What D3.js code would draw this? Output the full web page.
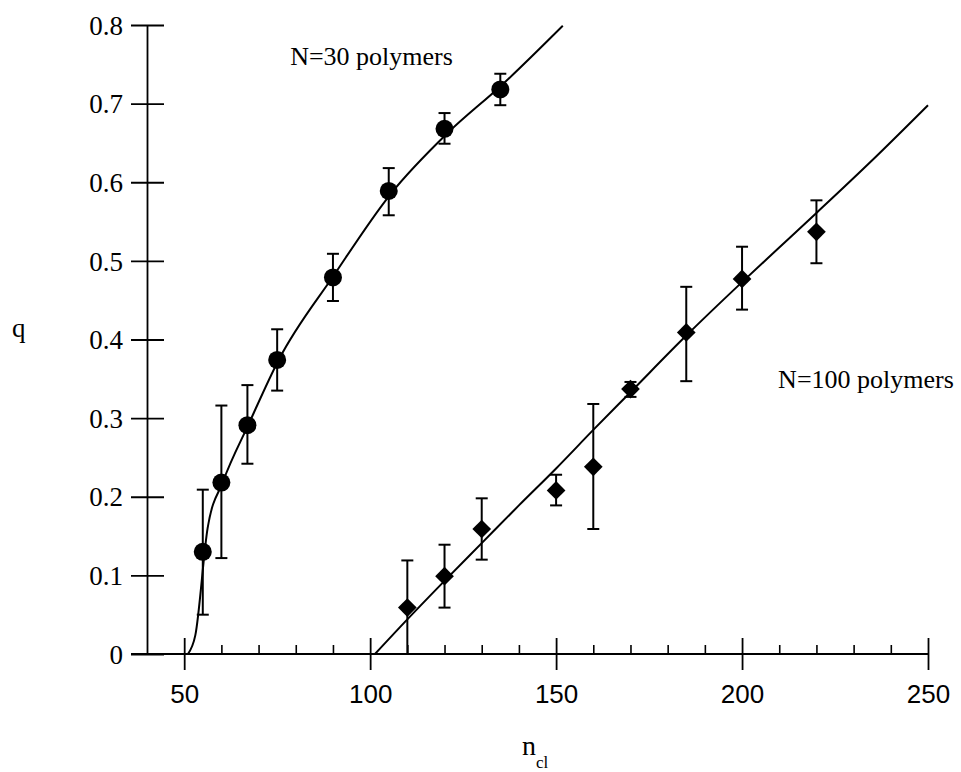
<!DOCTYPE html>
<html>
<head>
<meta charset="utf-8">
<script src="https://cdn.jsdelivr.net/npm/d3@7"></script>
<style>
  html, body { margin: 0; padding: 0; background: #fff; }
  svg { display: block; }
</style>
</head>
<body>
<svg id="chart" width="961" height="772"></svg>
<script>
// ---------- data ----------
// N=30 polymers (circles)
const n30   = [55, 60, 67, 75, 90, 105, 120, 135];
const q30   = [0.130, 0.218, 0.291, 0.374, 0.479, 0.589, 0.668, 0.718];
const lo30  = [0.050, 0.122, 0.242, 0.335, 0.449, 0.558, 0.649, 0.698];
const hi30  = [0.209, 0.316, 0.342, 0.413, 0.509, 0.618, 0.688, 0.738];
// fitted curve, N=30
const fit30X = [51, 53, 56.3, 60.5, 67.4, 75.4, 90.3, 105.5, 120.7, 135.5, 151.8];
const fit30Y = [0, 0.024, 0.16, 0.22, 0.293, 0.374, 0.482, 0.585, 0.662, 0.724, 0.799];

// N=100 polymers (diamonds)
const n100  = [110, 120, 130, 150, 160, 170, 185, 200, 220];
const q100  = [0.059, 0.099, 0.159, 0.208, 0.238, 0.337, 0.409, 0.477, 0.537];
const lo100 = [0.000, 0.059, 0.120, 0.189, 0.159, 0.327, 0.347, 0.438, 0.497];
const hi100 = [0.119, 0.139, 0.198, 0.228, 0.318, 0.346, 0.467, 0.518, 0.577];
// fitted curve, N=100
const fit100X = [101.3, 110, 120, 130, 140, 150, 160, 170, 185, 200, 210, 220, 235, 250];
const fit100Y = [0, 0.044, 0.093, 0.141, 0.189, 0.236, 0.285, 0.333, 0.405, 0.473, 0.517, 0.561, 0.628, 0.698];

// axes ticks
const xMajorTicks = [50, 100, 150, 200, 250];
const xMinorTicks = [60, 70, 80, 90, 110, 120, 130, 140, 160, 170, 180, 190, 210, 220, 230, 240];
const yTicks = [0, 0.1, 0.2, 0.3, 0.4, 0.5, 0.6, 0.7, 0.8];
const yTickLabels = ["0", "0.1", "0.2", "0.3", "0.4", "0.5", "0.6", "0.7", "0.8"];

// annotations (data coordinates)
const labels = [
  { text: "N=30 polymers",  n: 78.5,  q: 0.749 },
  { text: "N=100 polymers", n: 209.7, q: 0.338 }
];

// ---------- drawing ----------
const svg = d3.select("#chart");
const x = d3.scaleLinear().domain([40, 250]).range([147, 928]);
const y = d3.scaleLinear().domain([0, 0.8]).range([654, 25]);

const serif = "'Liberation Serif', 'Times New Roman', serif";
const sans = "'Liberation Sans', Arial, Helvetica, sans-serif";
const ink = "#000";

// y axis
const yAxis = d3.axisLeft(y).tickValues(yTicks).tickFormat((d, i) => yTickLabels[i])
  .tickSizeInner(16).tickSizeOuter(0).tickPadding(8);
const gy = svg.append("g").attr("transform", `translate(${x(40)},0)`).call(yAxis);
gy.select(".domain").attr("stroke", ink).attr("stroke-width", 1.8);
gy.selectAll(".tick line").attr("x1", -16).attr("x2", 17).attr("stroke", ink).attr("stroke-width", 1.8);
gy.selectAll(".tick text").attr("font-family", serif).attr("font-size", 27).attr("fill", ink)
  .attr("x", -24).attr("dy", "0.34em");

// x axis (major)
const xAxis = d3.axisBottom(x).tickValues(xMajorTicks).tickFormat(d3.format("d"))
  .tickSizeInner(16).tickSizeOuter(0).tickPadding(20);
const gx = svg.append("g").attr("transform", `translate(0,${y(0)})`).call(xAxis);
gx.select(".domain").attr("d", `M${x(40) - 16},0H${x(250)}`).attr("stroke", ink).attr("stroke-width", 1.8);
gx.selectAll(".tick line").attr("y1", -16).attr("y2", 16).attr("stroke", ink).attr("stroke-width", 1.8);
gx.selectAll(".tick text").attr("font-family", sans).attr("font-size", 26).attr("fill", ink)
  .attr("y", 31).attr("dy", "0.71em");

// x axis minor ticks
const xMinor = d3.axisBottom(x).tickValues(xMinorTicks).tickFormat("").tickSizeInner(-9).tickSizeOuter(0);
const gxm = svg.append("g").attr("transform", `translate(0,${y(0)})`).call(xMinor);
gxm.select(".domain").remove();
gxm.selectAll(".tick line").attr("stroke", ink).attr("stroke-width", 1.6);

// fitted curves
const line = d3.line().x(d => x(d[0])).y(d => y(d[1])).curve(d3.curveMonotoneX);
svg.append("path").datum(fit30X.map((v, i) => [v, fit30Y[i]]))
  .attr("d", line).attr("fill", "none").attr("stroke", ink).attr("stroke-width", 2);
svg.append("path").datum(fit100X.map((v, i) => [v, fit100Y[i]]))
  .attr("d", line).attr("fill", "none").attr("stroke", ink).attr("stroke-width", 2);

// error bars
function errorBars(xs, lo, hi) {
  const g = svg.append("g").attr("stroke", ink).attr("stroke-width", 2).attr("fill", "none");
  xs.forEach((v, i) => {
    const cx = x(v);
    g.append("line").attr("x1", cx).attr("x2", cx).attr("y1", y(lo[i])).attr("y2", y(hi[i]));
    g.append("line").attr("x1", cx - 6).attr("x2", cx + 6).attr("y1", y(hi[i])).attr("y2", y(hi[i]));
    g.append("line").attr("x1", cx - 6).attr("x2", cx + 6).attr("y1", y(lo[i])).attr("y2", y(lo[i]));
  });
}
errorBars(n30, lo30, hi30);
errorBars(n100, lo100, hi100);

// circles (N=30)
svg.append("g").selectAll("circle").data(n30).join("circle")
  .attr("cx", d => x(d)).attr("cy", (d, i) => y(q30[i])).attr("r", 9).attr("fill", ink);

// diamonds (N=100)
svg.append("g").selectAll("path").data(n100).join("path")
  .attr("d", d3.symbol().type(d3.symbolSquare).size(175))
  .attr("transform", (d, i) => `translate(${x(d)},${y(q100[i])}) rotate(45)`)
  .attr("fill", ink);

// annotations
svg.append("g").selectAll("text").data(labels).join("text")
  .attr("x", d => x(d.n)).attr("y", d => y(d.q))
  .attr("font-family", serif).attr("font-size", 26).attr("fill", ink)
  .text(d => d.text);

// axis titles
svg.append("text").attr("x", 12).attr("y", 337)
  .attr("font-family", serif).attr("font-size", 27).attr("fill", ink).text("q");
const xt = svg.append("text").attr("x", 522).attr("y", 755)
  .attr("font-family", serif).attr("font-size", 28).attr("fill", ink);
xt.append("tspan").text("n");
xt.append("tspan").attr("font-size", 17).attr("dy", 13).text("cl");
</script>
</body>
</html>
